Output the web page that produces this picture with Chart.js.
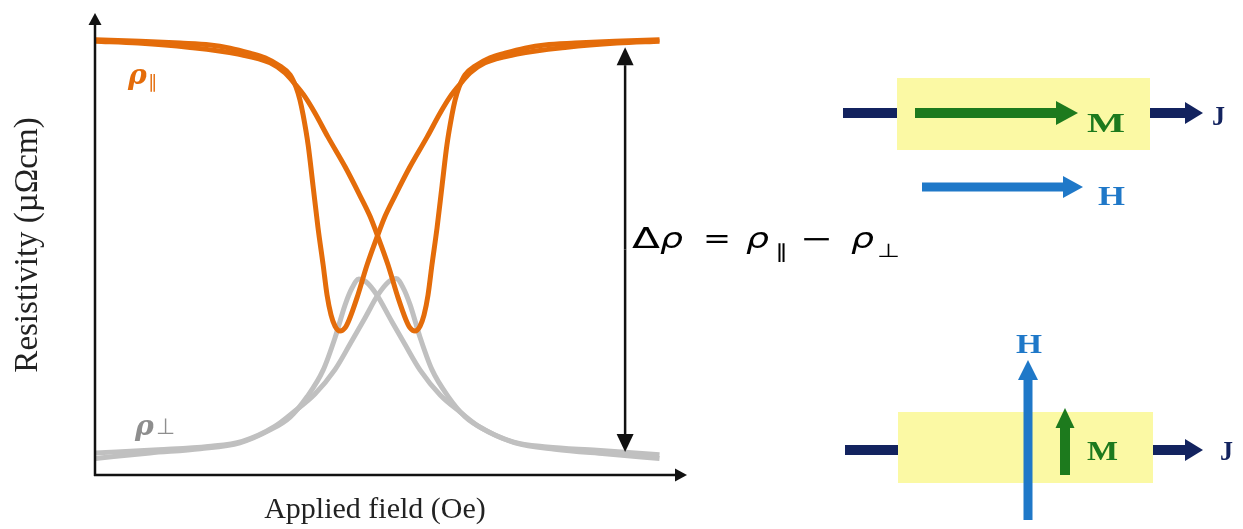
<!DOCTYPE html>
<html>
<head>
<meta charset="utf-8">
<script src="https://cdn.jsdelivr.net/npm/chart.js@4.4.1/dist/chart.umd.min.js"></script>
<style>
  html, body { margin: 0; padding: 0; background: #fff; }
  #amr { display: block; }
</style>
</head>
<body>
<canvas id="amr" width="1243" height="529"></canvas>
<script>
// rho parallel, sweep from left (min on the negative side)
const parUpX = [-10.0, -8.42, -7.00, -5.94, -5.23, -4.52, -3.99, -3.46, -3.10, -2.89, -2.75, -2.64, -2.46, -2.29, -2.11, -1.93, -1.79, -1.65, -1.51, -1.33, -1.15, -1.01, -0.73, -0.37, -0.02, 0.27, 0.62, 1.15, 1.76, 2.22, 2.57, 2.93, 3.28, 3.81, 4.95, 6.72, 8.49, 10.0];
const parUpY = [94.6, 94.3, 93.9, 93.5, 92.8, 91.7, 90.7, 88.9, 87.0, 84.3, 81.5, 78.3, 71.7, 63.0, 53.7, 45.7, 39.1, 34.8, 32.4, 31.3, 32.0, 33.7, 38.5, 45.7, 51.7, 56.3, 60.7, 67.0, 73.5, 78.7, 82.2, 85.0, 87.4, 89.6, 91.5, 93.0, 93.9, 94.3];
// rho parallel, sweep from right (min on the positive side)
const parDownX = [-10.0, -8.49, -6.72, -4.95, -3.81, -3.28, -2.93, -2.57, -2.22, -1.76, -1.15, -0.62, -0.27, 0.02, 0.37, 0.73, 1.01, 1.15, 1.33, 1.51, 1.65, 1.79, 1.93, 2.11, 2.29, 2.46, 2.64, 2.75, 2.89, 3.10, 3.46, 3.99, 4.52, 5.23, 5.94, 7.00, 8.42, 10.0];
const parDownY = [94.3, 93.9, 93.0, 91.5, 89.6, 87.4, 85.0, 82.2, 78.7, 73.5, 67.0, 60.7, 56.3, 51.7, 45.7, 38.5, 33.7, 32.0, 31.3, 32.4, 34.8, 39.1, 45.7, 53.7, 63.0, 71.7, 78.3, 81.5, 84.3, 87.0, 88.9, 90.7, 91.7, 92.8, 93.5, 93.9, 94.3, 94.6];
// rho perpendicular, the two branches
const perpAX = [-10.0, -8.07, -6.29, -4.88, -3.81, -3.10, -2.50, -1.93, -1.51, -1.15, -0.90, -0.66, -0.41, -0.02, 0.44, 0.98, 1.51, 2.22, 2.93, 3.63, 4.80, 6.01, 7.78, 10.0];
const perpAY = [3.6, 4.8, 5.7, 7.0, 9.8, 12.6, 17.0, 22.8, 29.8, 37.0, 40.7, 42.6, 42.0, 39.1, 34.1, 28.3, 22.8, 17.4, 13.7, 10.4, 7.2, 6.1, 5.4, 4.4];
const perpBX = [-10.0, -7.78, -6.01, -4.80, -3.63, -2.93, -2.22, -1.51, -0.98, -0.44, 0.02, 0.41, 0.66, 0.90, 1.15, 1.51, 1.93, 2.50, 3.10, 3.81, 4.88, 6.29, 8.07, 10.0];
const perpBY = [4.8, 5.5, 6.2, 7.3, 10.6, 13.9, 17.6, 22.9, 28.4, 34.2, 39.2, 42.1, 42.7, 40.8, 37.1, 29.9, 22.9, 17.1, 12.7, 9.8, 7.0, 5.6, 4.6, 3.6];

// delta-rho double arrow (field position, top and bottom values)
const deltaX = 8.78;
const deltaY = [93.0, 5.0];
// curve labels [x, y]
const parLabelPos = [-8.85, 86.5];
const perpLabelPos = [-8.6, 10.2];

const ORANGE = '#e46c0a';
const GREY = '#c0c0c0';
const NAVY = '#13235f';
const GREEN = '#1d7a1d';
const BLUE = '#1f78c8';
const YELLOW = '#fbf9a4';

function pts(xs, ys) {
    return xs.map(function(x, i) { return {x: x, y: ys[i]}; });
}

function arrow(ctx, x1, y1, x2, y2, w, headLen, headW, color) {
    const ang = Math.atan2(y2 - y1, x2 - x1);
    const bx = x2 - Math.cos(ang) * headLen;
    const by = y2 - Math.sin(ang) * headLen;
    ctx.save();
    ctx.strokeStyle = color;
    ctx.fillStyle = color;
    ctx.lineWidth = w;
    ctx.lineCap = 'butt';
    ctx.beginPath();
    ctx.moveTo(x1, y1);
    ctx.lineTo(bx, by);
    ctx.stroke();
    ctx.beginPath();
    ctx.moveTo(x2, y2);
    ctx.lineTo(bx + Math.sin(ang) * headW / 2, by - Math.cos(ang) * headW / 2);
    ctx.lineTo(bx - Math.sin(ang) * headW / 2, by + Math.cos(ang) * headW / 2);
    ctx.closePath();
    ctx.fill();
    ctx.restore();
}

// text stretched horizontally by sx
function txt(ctx, s, x, y, font, color, sx) {
    ctx.save();
    ctx.translate(x, y);
    ctx.scale(sx || 1, 1);
    ctx.font = font;
    ctx.fillStyle = color;
    ctx.fillText(s, 0, 0);
    ctx.restore();
}

// text squeezed/stretched to a given width
function wtxt(ctx, s, x, y, font, color, w) {
    ctx.font = font;
    const m = ctx.measureText(s).width;
    txt(ctx, s, x, y, font, color, w / m);
}

const decor = {
    id: 'decor',
    afterDraw: function(chart) {
        const ctx = chart.ctx;
        const xs = chart.scales.x, ys = chart.scales.y;
        const ca = chart.chartArea;
        // axes with arrows
        arrow(ctx, ca.left, ca.bottom + 1, ca.left, 13, 2.5, 12, 13, '#111');
        arrow(ctx, ca.left - 1, ca.bottom, 687, ca.bottom, 2.5, 12, 13, '#111');

        // delta rho double arrow
        const dx = xs.getPixelForValue(deltaX);
        const top = ys.getPixelForValue(deltaY[0]);
        const bot = ys.getPixelForValue(deltaY[1]);
        const mid = (top + bot) / 2;
        arrow(ctx, dx, mid, dx, top, 2.5, 18, 17, '#111');
        arrow(ctx, dx, mid, dx, bot, 2.5, 18, 17, '#111');

        ctx.save();
        ctx.textBaseline = 'alphabetic';
        ctx.textAlign = 'left';
        // curve labels
        let lx = xs.getPixelForValue(parLabelPos[0]);
        let ly = ys.getPixelForValue(parLabelPos[1]);
        txt(ctx, 'ρ', lx, ly + 7, 'italic bold 27px "DejaVu Serif"', ORANGE, 1.05);
        txt(ctx, '∥', lx + 20, ly + 11, '18px "DejaVu Sans"', ORANGE, 1);
        lx = xs.getPixelForValue(perpLabelPos[0]);
        ly = ys.getPixelForValue(perpLabelPos[1]);
        txt(ctx, 'ρ', lx, ly + 7, 'italic bold 27px "DejaVu Serif"', '#8e8e8e', 1.05);
        txt(ctx, '⊥', lx + 21, ly + 6, '22px "DejaVu Sans"', '#8e8e8e', 1);

        // formula
        const f = '28px "DejaVu Sans"', fi = 'italic 28px "DejaVu Sans"', fs = '19px "DejaVu Sans"';
        wtxt(ctx, 'Δ', 632, 248, f, '#000', 28);
        wtxt(ctx, 'ρ', 660, 248, fi, '#000', 23);
        wtxt(ctx, '=', 703, 248, f, '#000', 28);
        wtxt(ctx, 'ρ', 746, 248, fi, '#000', 23);
        wtxt(ctx, '∥', 775, 258, fs, '#000', 13);
        wtxt(ctx, '−', 800, 248, f, '#000', 33);
        wtxt(ctx, 'ρ', 851, 248, fi, '#000', 23);
        wtxt(ctx, '⊥', 877, 257, fs, '#000', 23);

        // parallel configuration
        ctx.fillStyle = YELLOW;
        ctx.fillRect(897, 78, 253, 72);
        ctx.fillStyle = NAVY;
        ctx.fillRect(843, 108, 54, 10);
        arrow(ctx, 1150, 113, 1203, 113, 10, 18, 22, NAVY);
        arrow(ctx, 915, 113, 1078, 113, 10, 22, 24, GREEN);
        arrow(ctx, 922, 187, 1083, 187, 9, 20, 22, BLUE);
        const sf = 'bold 27px "Liberation Serif"';
        wtxt(ctx, 'M', 1087, 132, sf, GREEN, 38);
        wtxt(ctx, 'J', 1212, 125, sf, NAVY, 13);
        wtxt(ctx, 'H', 1098, 205, sf, BLUE, 27);

        // perpendicular configuration
        ctx.fillStyle = YELLOW;
        ctx.fillRect(898, 412, 255, 71);
        ctx.fillStyle = NAVY;
        ctx.fillRect(845, 445, 53, 10);
        arrow(ctx, 1153, 450, 1203, 450, 10, 18, 22, NAVY);
        arrow(ctx, 1028, 520, 1028, 360, 9, 20, 20, BLUE);
        arrow(ctx, 1065, 475, 1065, 408, 10, 20, 19, GREEN);
        wtxt(ctx, 'H', 1016, 353, sf, BLUE, 26);
        wtxt(ctx, 'M', 1087, 460, sf, GREEN, 31);
        wtxt(ctx, 'J', 1220, 460, sf, NAVY, 13);
        ctx.restore();
    }
};

const lineStyle = {showLine: true, pointRadius: 0, borderWidth: 5, cubicInterpolationMode: 'monotone', clip: false, fill: false};

new Chart(document.getElementById('amr'), {
    type: 'scatter',
    data: {
        datasets: [
            Object.assign({label: 'ρ∥ up', data: pts(parUpX, parUpY), borderColor: ORANGE}, lineStyle),
            Object.assign({label: 'ρ∥ down', data: pts(parDownX, parDownY), borderColor: ORANGE}, lineStyle),
            Object.assign({label: 'ρ⊥ a', data: pts(perpAX, perpAY), borderColor: GREY}, lineStyle),
            Object.assign({label: 'ρ⊥ b', data: pts(perpBX, perpBY), borderColor: GREY}, lineStyle)
        ]
    },
    options: {
        responsive: false,
        animation: false,
        devicePixelRatio: 1,
        layout: { padding: { top: 15, right: 588, bottom: 0, left: 0 } },
        plugins: { legend: { display: false }, tooltip: { enabled: false } },
        scales: {
            x: {
                type: 'linear',
                min: -10.02,
                max: 9.84,
                grid: { display: false, drawTicks: false },
                border: { display: false },
                ticks: { display: false },
                title: {
                    display: true,
                    text: 'Applied field (Oe)',
                    color: '#222',
                    font: { family: 'Liberation Serif', size: 30, lineHeight: 1.2 },
                    padding: { top: 17, bottom: 1 }
                }
            },
            y: {
                type: 'linear',
                min: 0,
                max: 100,
                grid: { display: false, drawTicks: false },
                border: { display: false },
                ticks: { display: false },
                title: {
                    display: true,
                    text: 'Resistivity (µΩcm)',
                    color: '#222',
                    font: { family: 'Liberation Serif', size: 33, lineHeight: 1.2 },
                    padding: { top: 8.2, bottom: 47.2 }
                }
            }
        }
    },
    plugins: [decor]
});
</script>
</body>
</html>
